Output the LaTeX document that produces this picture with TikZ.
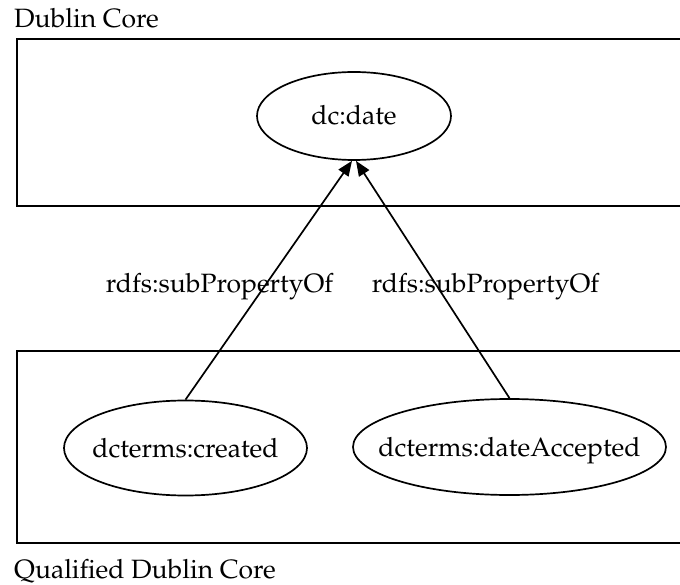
\documentclass[tikz,border=0pt]{standalone}
\usepackage[T1]{fontenc}
\usepackage{mathpazo}
\usetikzlibrary{shapes.geometric,arrows.meta}
\begin{document}
\begin{tikzpicture}[x=1pt,y=-1pt,
  every node/.style={font=\fontsize{26.5}{30}\selectfont, inner sep=0pt},
  cluster/.style={draw, line width=1.7pt},
  prop/.style={ellipse, draw, line width=1.7pt, text height=18pt, text depth=0pt},
  sub/.style={line width=1.7pt, -{Triangle[length=15pt,width=12pt]}},
  lbl/.style={anchor=base}]
\useasboundingbox (0,0) rectangle (680,585);
\clip (0,0) rectangle (680,585);
% clusters
\draw[cluster] (17,39) rectangle (700,206);
\draw[cluster] (17,351) rectangle (700,543);
\node[anchor=base west] (dctitle) at (14,28) {Dublin Core};
\node[anchor=base west] (qdctitle) at (14,578) {Qualified Dublin Core};
% properties
\node[prop, minimum width=194pt, minimum height=88pt] (date) at (354,116) {\makebox[0pt]{dc:date}};
\node[prop, minimum width=243pt, minimum height=95pt] (created) at (185.5,448) {\makebox[0pt]{dcterms:created}};
\node[prop, minimum width=313pt, minimum height=96pt] (accepted) at (509.5,447) {\makebox[0pt]{dcterms:dateAccepted}};
% edges
\draw[sub] (created.north) -- ([xshift=-2pt]date.south);
\draw[sub] (accepted.north) -- ([xshift=2pt]date.south);
% labels
\node[lbl] (l1) at (219.5,293) {rdfs:subPropertyOf};
\node[lbl] (l2) at (485.5,293) {rdfs:subPropertyOf};
\end{tikzpicture}
\end{document}
